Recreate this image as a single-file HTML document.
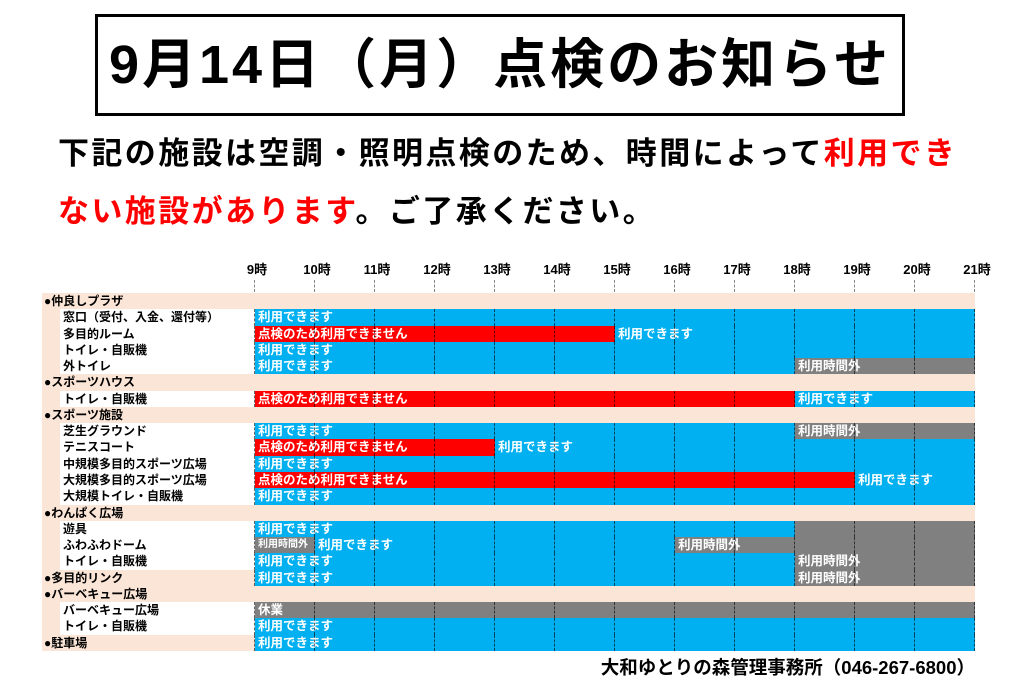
<!DOCTYPE html>
<html><head><meta charset="utf-8"><style>
body{margin:0;background:#fff;width:1024px;height:682px;overflow:hidden;position:relative;font-family:"Liberation Sans","Noto Sans CJK JP",sans-serif;font-weight:bold}
.a{position:absolute;white-space:nowrap}
#title{left:95px;top:14px;width:804px;height:96px;border:3px solid #000;font-size:54px;line-height:96px;text-align:center;letter-spacing:3px}
.l{font-size:31px;left:58px;letter-spacing:2.4px}
.hr{font-size:13px;top:259px;width:40px;text-align:center}
.bar{position:absolute;color:#fff;font-size:12.5px;line-height:16px;padding-left:3px;box-sizing:border-box;overflow:hidden}
.lab{position:absolute;font-size:12px;line-height:16px;color:#000}
</style></head><body>
<div id="title" class="a">9月14日（月）点検のお知らせ</div>
<div class="a l" style="top:128px">下記の施設は空調・照明点検のため、時間によって<span style="color:#f00">利用でき</span></div>
<div class="a l" style="top:186px"><span style="color:#f00">ない施設があります</span>。ご了承ください。</div>
<div class="a" style="right:49px;top:654px;font-size:18.5px">大和ゆとりの森管理事務所（046-267-6800）</div>
<div id="c"></div>
<script>
var c=document.getElementById('c'),h='';
var X=function(t){return 255+(t-9)*60};
for(var t=9;t<=21;t++){h+='<div class="a hr" style="left:'+(X(t)-18)+'px">'+t+'時</div>';}
var B='#00b0f0',R='#ff0000',G='#808080',T1='利用できます',T2='点検のため利用できません',T3='利用時間外';
var rows=[
['h','●仲良しプラザ'],
['s','窓口（受付、入金、還付等）',[[9,21,B,T1]]],
['s','多目的ルーム',[[9,15,R,T2],[15,21,B,T1]]],
['s','トイレ・自販機',[[9,21,B,T1]]],
['s','外トイレ',[[9,18,B,T1],[18,21,G,T3]]],
['h','●スポーツハウス'],
['s','トイレ・自販機',[[9,18,R,T2],[18,21,B,T1]]],
['h','●スポーツ施設'],
['s','芝生グラウンド',[[9,18,B,T1],[18,21,G,T3]]],
['s','テニスコート',[[9,13,R,T2],[13,21,B,T1]]],
['s','中規模多目的スポーツ広場',[[9,21,B,T1]]],
['s','大規模多目的スポーツ広場',[[9,19,R,T2],[19,21,B,T1]]],
['s','大規模トイレ・自販機',[[9,21,B,T1]]],
['h','●わんぱく広場'],
['s','遊具',[[9,18,B,T1],[18,21,G,'']]],
['s','ふわふわドーム',[[9,10,G,T3,1],[10,16,B,T1],[16,18,G,T3],[18,21,G,'']]],
['s','トイレ・自販機',[[9,18,B,T1],[18,21,G,T3]]],
['p','●多目的リンク',[[9,18,B,T1],[18,21,G,T3]]],
['h','●バーベキュー広場'],
['s','バーベキュー広場',[[9,21,G,'休業']]],
['s','トイレ・自販機',[[9,21,B,T1]]],
['p','●駐車場',[[9,21,B,T1]]]
];
var y0=293,rh=16.27;
rows.forEach(function(r,i){
 var y=Math.round(y0+i*rh),y2=Math.round(y0+(i+1)*rh),hh=y2-y;
 if(r[0]=='h'){h+='<div class="bar" style="left:42px;top:'+y+'px;width:933px;height:'+hh+'px;background:#fbe5d6"></div><div class="lab" style="left:44px;top:'+y+'px">'+r[1]+'</div>';return;}
 h+='<div class="bar" style="left:42px;top:'+y+'px;width:213px;height:'+hh+'px;background:#fbe5d6"></div>';
 if(r[0]=='s'){h+='<div class="bar" style="left:60px;top:'+y+'px;width:195px;height:'+hh+'px;background:#fff"></div><div class="lab" style="left:63px;top:'+y+'px">'+r[1]+'</div>';}
 else h+='<div class="lab" style="left:44px;top:'+y+'px">'+r[1]+'</div>';
 r[2].forEach(function(b){
  h+='<div class="bar" style="left:'+X(b[0])+'px;top:'+y+'px;width:'+(X(b[1])-X(b[0]))+'px;height:'+hh+'px;background:'+b[2]+(b[4]?';font-size:10px':'')+'">'+b[3]+'</div>';
 });
 for(var t=9;t<=21;t++){h+='<div class="a" style="left:'+(X(t)-1)+'px;top:'+y+'px;height:'+hh+'px;width:0;border-left:1px dashed rgba(0,0,0,0.6)"></div>';}
});
for(var t=9;t<=21;t++){h+='<div class="a" style="left:'+(X(t)-1)+'px;top:280px;height:12px;width:0;border-left:1px dashed #888"></div>';}
c.innerHTML=h;
</script>
</body></html>
